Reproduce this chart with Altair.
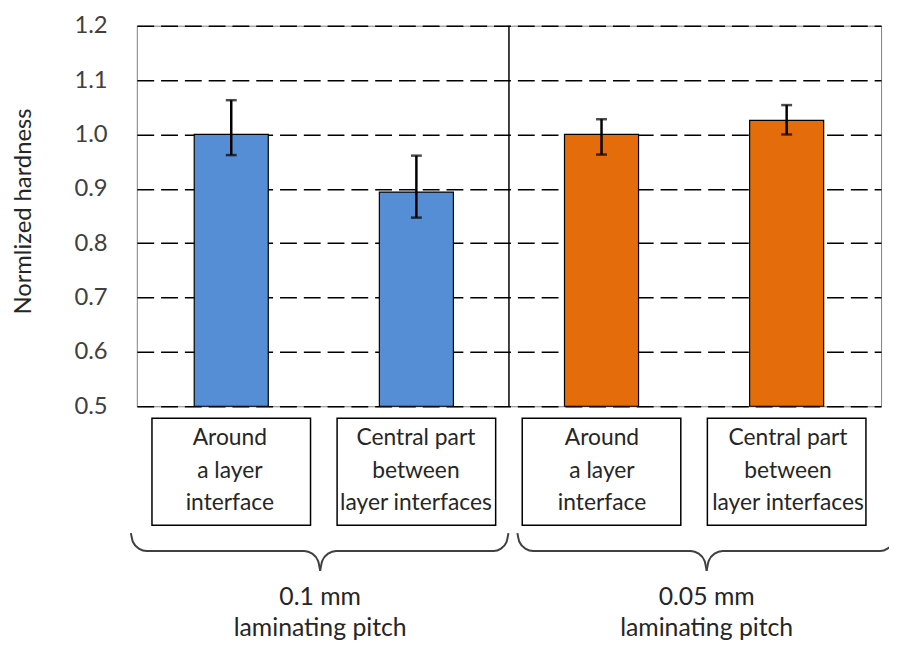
import altair as alt
import pandas as pd

# ---- data ----
keys = ["p01_around", "p01_central", "p005_around", "p005_central"]
box_labels = [
    "Around\na layer\ninterface",
    "Central part\nbetween\nlayer interfaces",
    "Around\na layer\ninterface",
    "Central part\nbetween\nlayer interfaces",
]
means = [1.000, 0.894, 1.000, 1.026]
err_low = [0.962, 0.847, 0.963, 1.000]
err_high = [1.063, 0.961, 1.028, 1.054]
bar_colors = ["#558ED5", "#558ED5", "#E46C0A", "#E46C0A"]
y_ticks = [0.5, 0.6, 0.7, 0.8, 0.9, 1.0, 1.1, 1.2]

group_labels = ["0.1 mm\nlaminating pitch", "0.05 mm\nlaminating pitch"]

# ---- layout of decorations (plot-pixel units) ----
W, H = 751, 384
group_label_x = [185, 575]
group_label_y = [577, 577]
divider_x = [375.5]
brace_seg = ["a"] * 8 + ["b"] * 8 + ["c"] * 8 + ["d"] * 8
brace_x = [
    -6, -3.9, 2, 10, 169, 177, 182.9, 185,
    185, 187.1, 193, 201, 360, 367.5, 373, 375,
    384, 386.1, 392, 400, 559, 567, 572.9, 575,
    575, 577.1, 583, 591, 750, 757.5, 763, 765,
]
brace_y = [
    512, 521, 527.6, 530, 530, 532.7, 540, 550,
    550, 540, 532.7, 530, 530, 527.6, 521, 512,
    512, 521, 527.6, 530, 530, 532.7, 540, 550,
    550, 540, 532.7, 530, 530, 527.6, 521, 512,
]

df = pd.DataFrame({
    "key": keys, "label": box_labels, "mean": means,
    "lo": err_low, "hi": err_high, "color": bar_colors,
})
braces = pd.DataFrame({"seg": brace_seg, "px": brace_x, "py": brace_y})
groups = pd.DataFrame({"label": group_labels, "px": group_label_x, "py": group_label_y})
divider = pd.DataFrame({"px": divider_x})

FONT = "Lato"

xband = alt.X("key:N", sort=keys, axis=None,
              scale=alt.Scale(paddingInner=0.6, paddingOuter=0.31))
yscale = alt.Scale(domain=[0.5, 1.2], nice=False)

yaxis = alt.Axis(
    values=y_ticks, format=".1f", grid=True, gridColor="black",
    gridDash=[17, 7], gridWidth=1.5, ticks=False, tickSize=0, domain=False,
    labelPadding=30, labelFont=FONT, labelFontSize=24, labelColor="#404040",
    title="Normlized hardness", titleFont=FONT, titleFontSize=24,
    titleFontWeight="normal", titleColor="#262626", titleAngle=-90,
    titleX=-114, titleY=H / 2 - 5, titleAlign="center", titleBaseline="middle",
)

bars = alt.Chart(df).mark_bar(stroke="black", strokeWidth=1.2).encode(
    x=xband,
    y=alt.Y("mean:Q", scale=yscale, axis=yaxis),
    y2=alt.datum(0.5),
    color=alt.Color("color:N", scale=None),
)
err = alt.Chart(df).mark_rule(color="black", strokeWidth=2.5).encode(
    x=xband, y=alt.Y("lo:Q", scale=yscale, axis=None), y2="hi:Q")
cap_lo = alt.Chart(df).mark_tick(color="black", size=11, thickness=2.5).encode(
    x=xband, y=alt.Y("lo:Q", scale=yscale, axis=None))
cap_hi = alt.Chart(df).mark_tick(color="black", size=11, thickness=2.5).encode(
    x=xband, y=alt.Y("hi:Q", scale=yscale, axis=None))

boxes = alt.Chart(df).mark_bar(width=160, fill="white", stroke="black", strokeWidth=1.5).encode(
    x=xband, y=alt.value(396), y2=alt.value(504))
box_text = alt.Chart(df).mark_text(
    font=FONT, fontSize=23, color="#262626", lineBreak="\n", lineHeight=33,
    baseline="middle", align="center",
).encode(x=xband, y=alt.value(416), text="label:N")

px_x = alt.X("px:Q", scale=alt.Scale(domain=[0, W], nice=False, zero=False), axis=None)
px_y = alt.Y("py:Q", scale=alt.Scale(domain=[H, 0], nice=False, zero=False), axis=None)

brace_lines = alt.Chart(braces).mark_line(
    color="#404040", strokeWidth=2, interpolate="monotone").encode(
    x=px_x, y=px_y, detail="seg:N", order="px:Q")
group_text = alt.Chart(groups).mark_text(
    font=FONT, fontSize=25, color="#262626", lineBreak="\n", lineHeight=31,
    baseline="middle", align="center",
).encode(x=px_x, y=px_y, text="label:N")
div_rule = alt.Chart(divider).mark_rule(color="black", strokeWidth=1.5).encode(
    x=px_x, y=alt.value(0), y2=alt.value(H))

chart = alt.layer(
    bars, err, cap_lo, cap_hi, boxes, box_text, div_rule, brace_lines, group_text
).resolve_scale(x="independent", y="independent").properties(
    width=W, height=H,
    autosize=alt.AutoSizeParams(type="none"),
    padding={"left": 130, "top": 15, "right": 8, "bottom": 235},
    background="white",
).configure_view(stroke="#808080", strokeWidth=1)

chart.save("out.html", embed_options={"renderer": "svg", "actions": False})
